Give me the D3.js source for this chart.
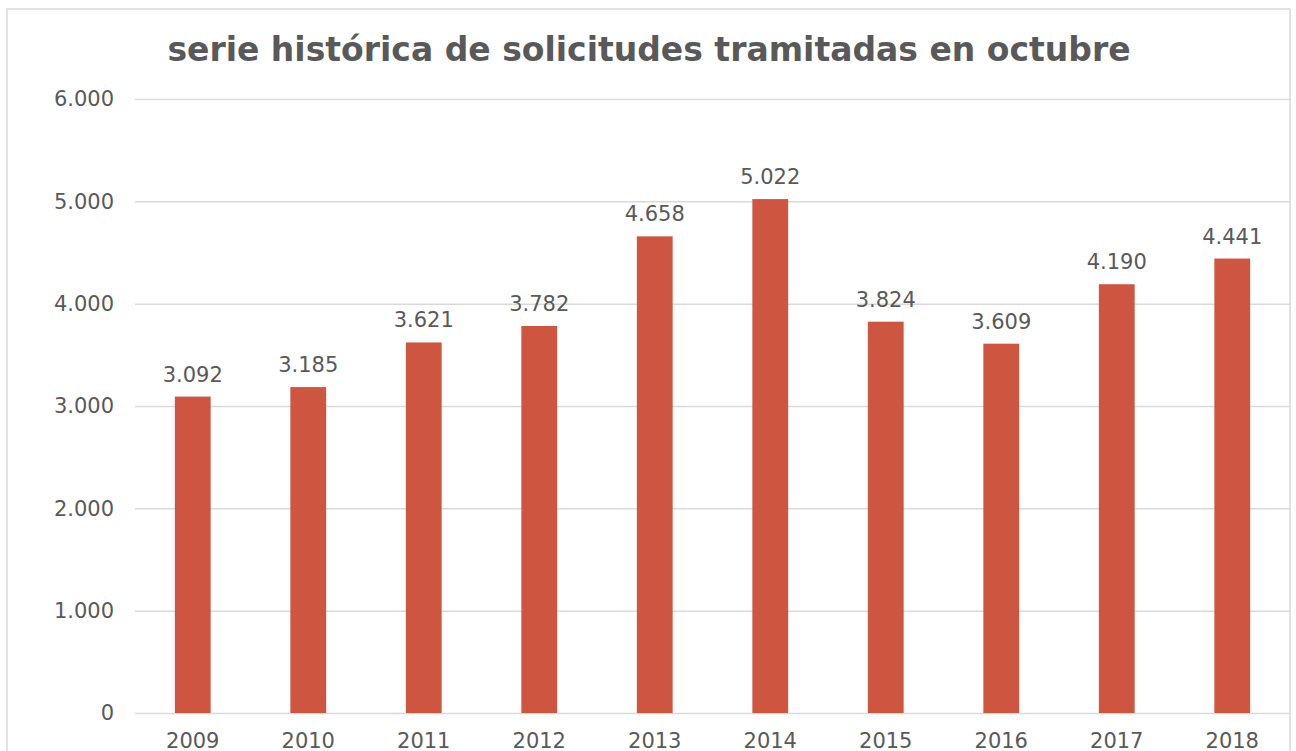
<!DOCTYPE html>
<html>
<head>
<meta charset="utf-8">
<script src="https://cdn.jsdelivr.net/npm/d3@7"></script>
<style>
 body {margin: 0; background: #fff;}
 text {font-family: "DejaVu Sans", Verdana, sans-serif; fill: #595959;}
</style>
</head>
<body>
<svg width="1296" height="751"></svg>
<script>

// data
const years = ["2009","2010","2011","2012","2013","2014","2015","2016","2017","2018"];
const solicitudes = [3092, 3185, 3621, 3782, 4658, 5022, 3824, 3609, 4190, 4441];
const yTicks = [0, 1000, 2000, 3000, 4000, 5000, 6000];
const title = "serie histórica de solicitudes tramitadas en octubre";

const svg = d3.select("svg");
const fmt = v => d3.format(",")(v).replace(/,/g, ".");

// plot area
const plotL = 135, plotR = 1290, plotT = 99, plotB = 713;

const x = d3.scaleBand().domain(years).range([plotL, plotR]).paddingInner(0.69).paddingOuter(0.345);
const y = d3.scaleLinear().domain([0, 6000]).range([plotB, plotT]);

// outer border
svg.append("rect")
  .attr("x", 7).attr("y", 9)
  .attr("width", 1283).attr("height", 800)
  .attr("fill", "none")
  .attr("stroke", "#d9d9d9")
  .attr("stroke-width", 1.5);

svg.append("text")
  .attr("x", 649).attr("y", 61)
  .attr("text-anchor", "middle")
  .style("font-size", "33px")
  .style("font-weight", "bold")
  .text(title);

// y axis: gridlines + labels
const yAxis = svg.append("g")
  .attr("transform", "translate(" + plotL + ",0)")
  .call(d3.axisLeft(y).tickValues(yTicks).tickSize(-(plotR - plotL)).tickPadding(21).tickFormat(fmt));
yAxis.select(".domain").remove();
yAxis.selectAll("line").attr("stroke", "#d9d9d9").attr("stroke-width", 1.5);
yAxis.selectAll("text")
  .attr("fill", "#595959")
  .style("font-size", "21px")
  .style("font-family", "DejaVu Sans, Verdana, sans-serif");

// bars
svg.append("g")
  .selectAll("rect")
  .data(solicitudes)
  .enter()
  .append("rect")
    .attr("x", (d, i) => x(years[i]))
    .attr("y", d => y(d))
    .attr("width", x.bandwidth())
    .attr("height", d => y(0) - y(d))
    .attr("fill", "#ce5641");

// value labels
svg.append("g")
  .selectAll("text")
  .data(solicitudes)
  .enter()
  .append("text")
    .attr("x", (d, i) => x(years[i]) + x.bandwidth() / 2)
    .attr("y", d => y(d) - 15)
    .attr("text-anchor", "middle")
    .style("font-size", "21px")
    .text(fmt);

// x axis labels
const xAxis = svg.append("g")
  .attr("transform", "translate(0," + plotB + ")")
  .call(d3.axisBottom(x).tickSize(0).tickPadding(20));
xAxis.select(".domain").remove();
xAxis.selectAll("text")
  .attr("fill", "#595959")
  .style("font-size", "21px")
  .style("font-family", "DejaVu Sans, Verdana, sans-serif");

</script>
</body>
</html>
